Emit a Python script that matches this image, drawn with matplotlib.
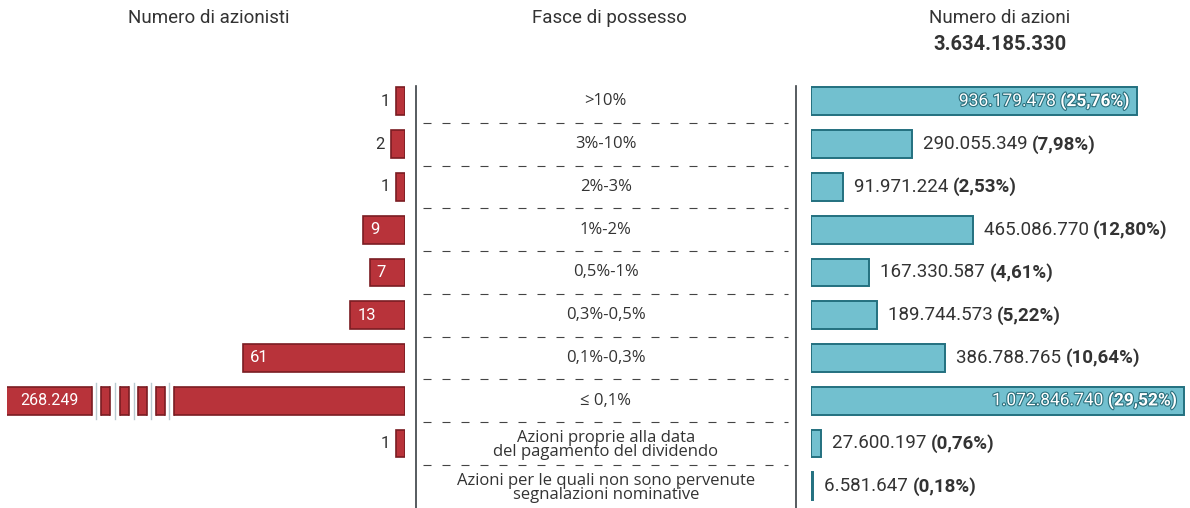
import numpy as np
import matplotlib
matplotlib.use("Agg")
import matplotlib.pyplot as plt
import matplotlib.transforms as mtransforms
from matplotlib import patheffects as pe

# ---------------- data ----------------
categories = [">10%", "3%-10%", "2%-3%", "1%-2%", "0,5%-1%", "0,3%-0,5%",
              "0,1%-0,3%", "≤ 0,1%",
              "Azioni proprie alla data\ndel pagamento del dividendo",
              "Azioni per le quali non sono pervenute\nsegnalazioni nominative"]
shareholders = [1, 2, 1, 9, 7, 13, 61, 268249, 1, None]
shares = [936179478, 290055349, 91971224, 465086770, 167330587, 189744573,
          386788765, 1072846740, 27600197, 6581647]
share_pct = ["25,76%", "7,98%", "2,53%", "12,80%", "4,61%", "5,22%",
             "10,64%", "29,52%", "0,76%", "0,18%"]
total_shares = "3.634.185.330"
header_left = "Numero di azionisti"
header_mid = "Fasce di possesso"
header_right = "Numero di azioni"

# ---------------- style ----------------
FONT = ["Roboto", "DejaVu Sans"]
CAT_FONT = ["Open Sans", "DejaVu Sans"]
plt.rcParams["font.family"] = FONT
TXT = "#333333"
RED = "#b8333a"
RED_EDGE = "#7a1d22"
TEAL = "#72c0cf"
TEAL_EDGE = "#23707f"
W, H = 1190, 508
BAR_H = 0.65


def it_num(v):
    return f"{v:,}".replace(",", ".")


fig = plt.figure(figsize=(W / 100, H / 100), dpi=100)

ax_bottom = 0.0
ax_height = 428 / H
n = len(categories)
ylim = (n - 0.5 + 0.01, -0.5)
y = np.arange(n)

axL = fig.add_axes([7 / W, ax_bottom, 398.5 / W, ax_height])
axM = fig.add_axes([415.5 / W, ax_bottom, 380.5 / W, ax_height])
axR = fig.add_axes([811 / W, ax_bottom, 379 / W, ax_height])

# ---------- left panel: shareholders (compressed power scale) ----------
P = 0.7
fwd = lambda x: np.sign(x) * np.abs(x) ** P
inv = lambda v: np.sign(v) * np.abs(v) ** (1 / P)
axL.set_xscale("function", functions=(fwd, inv))
axL.set_xlim(220, 0)

yl = [yy for yy, v in zip(y, shareholders) if v is not None]
vl = [v for v in shareholders if v is not None]
axL.barh(yl, vl, height=BAR_H, color=RED, edgecolor=RED_EDGE, linewidth=1.2)

# broken bar for the huge value
big_idx = int(np.argmax([v if v is not None else 0 for v in shareholders]))
blend = mtransforms.blended_transform_factory(axL.transAxes, axL.transData)
gaps_px = [(92, 101), (110, 120), (129, 138), (147, 156), (165, 174)]
x0_px, w_px = 7, 398.5
for a, b in gaps_px:
    fa, fb = (a - x0_px) / w_px, (b - x0_px) / w_px
    axL.add_patch(plt.Rectangle((fa, big_idx - 0.45), fb - fa, 0.9,
                                transform=blend, facecolor="white",
                                edgecolor="none", zorder=3))
    for fx in (fa, fb):
        axL.plot([fx, fx], [big_idx - BAR_H / 2, big_idx + BAR_H / 2],
                 transform=blend, color=RED_EDGE, lw=1.2, zorder=4)
    mid = (fa + fb) / 2
    axL.plot([mid, mid], [big_idx - 0.42, big_idx + 0.42], transform=blend,
             color="#b9cbd1", lw=1.0, zorder=4)

for yy, v in zip(y, shareholders):
    if v is None:
        continue
    if v == shareholders[big_idx]:
        axL.text((20 - x0_px) / w_px, yy, it_num(v), transform=blend,
                 ha="left", va="center", color="white", fontsize=11.5,
                 zorder=5)
    elif v >= 5:
        axL.annotate(it_num(v), xy=(v, yy), xytext=(7, 0),
                     textcoords="offset pixels", ha="left", va="center",
                     color="white", fontsize=12, zorder=5)
    else:
        axL.annotate(it_num(v), xy=(v, yy), xytext=(-6, 0),
                     textcoords="offset pixels", ha="right", va="center",
                     color=TXT, fontsize=12, zorder=5)

# ---------- middle panel: categories ----------
axM.set_xlim(0, 1)
sep = y[:-1] + 0.5
axM.hlines(sep, 0.021, 0.979, colors="#444444", linewidth=0.8,
           linestyles=(0, (7.2, 9.9)))
for yy, c in zip(y, categories):
    axM.text(0.5, yy + (0.04 if "\n" in c else 0), c, ha="center",
             va="center", color=TXT, fontsize=12, linespacing=0.88,
             family=CAT_FONT)

# ---------- right panel: shares ----------
axR.set_xlim(0, 1.09e9)
axR.barh(y, shares, height=BAR_H, color=TEAL, edgecolor=TEAL_EDGE,
         linewidth=1.4)
inside_thr = 0.8e9
for yy, v, p in zip(y, shares, share_pct):
    if v >= inside_thr:
        t1 = axR.annotate(f"({p})", xy=(v, yy), xytext=(-7, 0),
                          textcoords="offset pixels", ha="right",
                          va="center", color="white", fontsize=12.5,
                          fontweight="bold")
        t2 = axR.annotate(it_num(v) + " ", xy=(0, 0.5), xycoords=t1,
                          ha="right", va="center", color="white",
                          fontsize=12.5)
        for t in (t1, t2):
            t.set_path_effects([pe.withStroke(linewidth=1.6,
                                              foreground="#2b6f7c")])
    else:
        t1 = axR.annotate(it_num(v) + " ", xy=(v, yy), xytext=(11, 0),
                          textcoords="offset pixels", ha="left",
                          va="center", color=TXT, fontsize=13.5)
        axR.annotate(f"({p})", xy=(1, 0.5), xycoords=t1, ha="left",
                     va="center", color=TXT, fontsize=13.5,
                     fontweight="bold")

# ---------- axes cosmetics (after scales are set) ----------
for ax in (axL, axM, axR):
    ax.set_ylim(*ylim)
    ax.set_xticks([])
    ax.set_yticks([])
    ax.xaxis.set_minor_locator(matplotlib.ticker.NullLocator())
    for s in ax.spines.values():
        s.set_visible(False)
    ax.patch.set_alpha(0)
for side in ("left", "right"):
    axM.spines[side].set_visible(True)
    axM.spines[side].set_color("#3a3f44")
    axM.spines[side].set_linewidth(1.2)
    axM.spines[side].set_bounds(-0.37, n - 0.49)

# ---------- headers ----------
fig.text(209 / W, 1 - 18 / H, header_left, ha="center", va="center",
         fontsize=13.5, color=TXT)
fig.text(609 / W, 1 - 18 / H, header_mid, ha="center", va="center",
         fontsize=13.5, color=TXT)
fig.text(1000 / W, 1 - 18 / H, header_right, ha="center", va="center",
         fontsize=13.5, color=TXT)
fig.text(1000 / W, 1 - 45 / H, total_shares, ha="center", va="center",
         fontsize=14.5, color=TXT, fontweight="bold")

fig.savefig("out.png", dpi=100, facecolor="white")
